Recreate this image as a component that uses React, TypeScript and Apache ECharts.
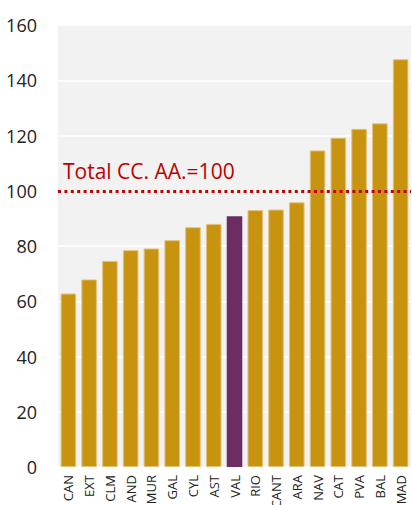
import React, { useEffect, useRef } from "react";
import * as echarts from "echarts";

const categories = ["CAN", "EXT", "CLM", "AND", "MUR", "GAL", "CYL", "AST", "VAL", "RIO", "CANT", "ARA", "NAV", "CAT", "PVA", "BAL", "MAD"];
const values = [62.8, 67.9, 74.6, 78.5, 79.1, 82.1, 86.8, 88.0, 90.8, 93.0, 93.2, 95.8, 114.6, 119.2, 122.4, 124.4, 147.6];
const highlight = "VAL";
const referenceValue = 100;
const referenceLabel = "Total CC. AA.=100";
const yTicks = [0, 20, 40, 60, 80, 100, 120, 140, 160];

const FONT = "'Open Sans', 'Noto Sans', sans-serif";

export default function App() {
  const ref = useRef<HTMLDivElement>(null);
  useEffect(() => {
    if (!ref.current) return;
    const chart = echarts.init(ref.current, undefined, { renderer: "svg" });
    chart.setOption({
      animation: false,
      grid: {
        left: 58,
        right: 1,
        top: 25,
        bottom: 38,
        show: true,
        backgroundColor: "#f2f2f2",
        borderWidth: 0,
        containLabel: false,
        outerBoundsMode: "none",
      },
      xAxis: {
        type: "category",
        data: categories,
        axisLine: { show: false },
        axisTick: { show: false },
        axisLabel: {
          rotate: 90,
          fontSize: 13,
          color: "#222",
          fontFamily: FONT,
          margin: 8,
          interval: 0,
        },
      },
      yAxis: {
        type: "value",
        min: yTicks[0],
        max: yTicks[yTicks.length - 1],
        interval: 20,
        axisLine: { show: false },
        axisTick: { show: false },
        axisLabel: { fontSize: 18, color: "#222", fontFamily: FONT, margin: 21 },
        splitLine: { show: true, lineStyle: { color: "#ffffff", width: 1.5 } },
      },
      series: [
        {
          type: "bar",
          data: values.map((v, i) => ({
            value: v,
            itemStyle:
              categories[i] === highlight
                ? { color: "#6b2d62", borderColor: "#6b2d62", borderWidth: 0 }
                : { color: "#c8930f", borderColor: "#e3c27a", borderWidth: 1 },
          })),
          barCategoryGap: "25%",
          markLine: {
            silent: true,
            symbol: "none",
            data: [{ yAxis: referenceValue }],
            lineStyle: { color: "#c00000", width: 3, type: [3, 3.4], cap: "butt" },
            label: {
              show: true,
              position: "insideStartTop",
              formatter: referenceLabel,
              color: "#c00000",
              fontSize: 21,
              fontFamily: FONT,
              distance: [5, 9],
            },
          },
        },
      ],
    });
    return () => chart.dispose();
  }, []);
  return <div ref={ref} style={{ width: 412, height: 505, position: "absolute", left: 0, top: 0 }} />;
}
